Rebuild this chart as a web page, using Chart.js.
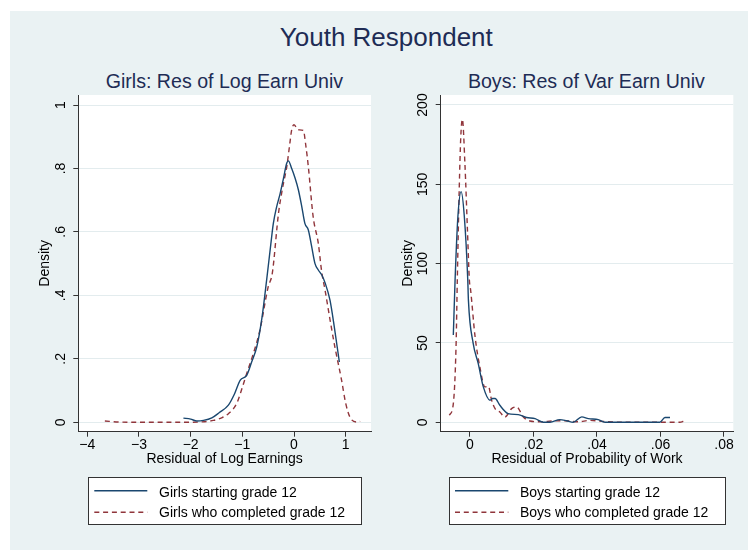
<!DOCTYPE html>
<html><head><meta charset="utf-8">
<script src="https://cdn.jsdelivr.net/npm/chart.js@4.4.1/dist/chart.umd.min.js"></script>
<style>
html,body{margin:0;padding:0;background:#fff;}
#wrap{position:relative;width:748px;height:550px;overflow:hidden;background:#fff;}
#bg{position:absolute;left:10px;top:11px;width:738px;height:539px;background:#EAF2F3;}
canvas{position:absolute;top:0;}
.t{position:absolute;white-space:nowrap;font-family:"Liberation Sans",Arial,sans-serif;line-height:1;}
.title{font-size:26px;color:#1e2c55;top:23.7px;left:386.3px;transform:translateX(-50%);}
.sub{font-size:19.6px;color:#1e2c55;top:71.7px;transform:translateX(-50%);}
.leg{position:absolute;top:477px;height:48px;background:#fff;border:1px solid #333;box-sizing:border-box;}
.lt{font-size:14px;color:#000;}
svg{position:absolute;left:0;top:0;}
</style>
</head><body>
<div id="wrap">
<div id="bg"></div>
<div class="t title">Youth Respondent</div>
<div class="t sub" style="left:224.4px">Girls: Res of Log Earn Univ</div>
<div class="t sub" style="left:586.4px">Boys: Res of Var Earn Univ</div>
<canvas id="c1" width="374" height="550" style="left:0px"></canvas>
<canvas id="c2" width="374" height="550" style="left:374px"></canvas>
<div class="leg" style="left:87.5px;width:274.5px"></div>
<div class="leg" style="left:449px;width:277px"></div>
<svg width="748" height="550">
<line x1="94.3" y1="490.7" x2="147.3" y2="490.7" stroke="#1a476f" stroke-width="1.4"/>
<line x1="94.3" y1="512.3" x2="147.3" y2="512.3" stroke="#90353b" stroke-width="1.4" stroke-dasharray="5,3.8"/>
<line x1="455" y1="490.7" x2="508.3" y2="490.7" stroke="#1a476f" stroke-width="1.4"/>
<line x1="455" y1="512.3" x2="508.3" y2="512.3" stroke="#90353b" stroke-width="1.4" stroke-dasharray="5,3.8"/>
</svg>
<div class="t lt" style="left:159px;top:484.8px">Girls starting grade 12</div>
<div class="t lt" style="left:159px;top:505.4px">Girls who completed grade 12</div>
<div class="t lt" style="left:520px;top:484.8px">Boys starting grade 12</div>
<div class="t lt" style="left:520px;top:505.4px">Boys who completed grade 12</div>
</div>
<script>
// ---- Data ----
const girlsStartX = [-2.14,-2.0,-1.88,-1.75,-1.59,-1.45,-1.27,-1.15,-1.04,-0.915,-0.82,-0.72,-0.62,-0.53,-0.45,-0.40,-0.335,-0.27,-0.21,-0.14,-0.11,-0.045,0.02,0.084,0.15,0.21,0.277,0.34,0.406,0.47,0.535,0.6,0.696,0.78,0.877];
const girlsStartY = [0.013,0.010,0.004,0.006,0.014,0.030,0.054,0.090,0.133,0.148,0.190,0.238,0.330,0.448,0.560,0.627,0.680,0.720,0.764,0.817,0.824,0.800,0.770,0.733,0.680,0.627,0.606,0.555,0.500,0.480,0.465,0.440,0.385,0.300,0.190];
const girlsCompX = [-3.66,-3.4,-3.0,-2.5,-2.0,-1.8,-1.56,-1.4,-1.27,-1.11,-1.0,-0.915,-0.8,-0.66,-0.5,-0.42,-0.30,-0.22,-0.14,-0.08,-0.045,0.0,0.08,0.18,0.23,0.277,0.37,0.47,0.535,0.6,0.7,0.79,0.92,1.0,1.08,1.21,1.28];
const girlsCompY = [0.004,0.001,0.0,0.0,0.0,0.001,0.006,0.014,0.027,0.059,0.110,0.154,0.210,0.290,0.427,0.470,0.659,0.740,0.806,0.880,0.922,0.938,0.922,0.920,0.870,0.806,0.648,0.564,0.475,0.417,0.320,0.238,0.133,0.060,0.017,0.001,0.003];
const boysStartX = [-0.00525,-0.0047,-0.0038,-0.0028,-0.0018,-0.0007,-0.0005,0.001,0.0026,0.0042,0.0063,0.0071,0.0079,0.0094,0.012,0.0152,0.0178,0.0205,0.0231,0.0252,0.0283,0.0304,0.0325,0.0352,0.0373,0.0404,0.0425,0.05,0.0598,0.0614,0.063];
const boysStartY = [55,89.6,130,145.4,130,89.6,77,49.7,37,22.3,13.9,15,15,10.7,5.5,4.8,3,2.3,0,0,1.7,1,0,3.4,2.3,1.7,0,0,0,3,3];
const boysCompX = [-0.0065,-0.00525,-0.0044,-0.004,-0.0034,-0.0029,-0.0024,-0.0016,-0.0008,-0.0002,0.0002,0.0016,0.0031,0.0047,0.0058,0.0068,0.0079,0.0094,0.011,0.0131,0.0147,0.0168,0.0189,0.022,0.026,0.03,0.034,0.0378,0.042,0.05,0.058,0.0661,0.0674];
const boysCompY = [4.4,11.8,47.5,89.6,146.5,180,191,163,121,89.6,83.3,53.9,34.9,22.3,22.7,14,8.6,6.5,3.3,8.6,9.7,3.3,0.8,0.3,0.8,1.0,0.3,1.2,0.5,0,0,0,0.8];

const girlsXTicks = [-4,-3,-2,-1,0,1];
const girlsXTickLabels = ['\u22124','\u22123','\u22122','\u22121','0','1'];
const girlsYTicks = [0,0.2,0.4,0.6,0.8,1];
const girlsYTickLabels = ['0','.2','.4','.6','.8','1'];
const boysXTicks = [0,0.02,0.04,0.06,0.08];
const boysXTickLabels = ['0','.02','.04','.06','.08'];
const boysYTicks = [0,50,100,150,200];
const boysYTickLabels = ['0','50','100','150','200'];

const NAVY = '#1a476f', MAROON = '#90353b';
Chart.defaults.font.family = '"Liberation Sans", Arial, sans-serif';
Chart.defaults.color = '#000';

const plotBg = { id:'plotBg', beforeDraw(chart){ const {ctx, chartArea:a} = chart; ctx.save(); ctx.fillStyle='#fff'; ctx.fillRect(a.left,a.top,a.right-a.left,a.bottom-a.top); ctx.restore(); } };

function pts(xs, ys){ return xs.map((x,i)=>({x:x,y:ys[i]})); }

function makeChart(id, o){
  return new Chart(document.getElementById(id), {
    type:'line',
    data:{ datasets:[
      {data:pts(o.sx,o.sy), borderColor:NAVY, borderWidth:1.4, pointRadius:0, fill:false, cubicInterpolationMode:'monotone'},
      {data:pts(o.cx,o.cy), borderColor:MAROON, borderWidth:1.4, borderDash:[5,3.8], pointRadius:0, fill:false, cubicInterpolationMode:'monotone'}
    ]},
    options:{
      responsive:false, animation:false, devicePixelRatio:1,
      layout:{ padding:o.pad },
      plugins:{ legend:{display:false}, tooltip:{enabled:false}, title:{display:false} },
      scales:{
        x:{ type:'linear', min:o.xmin, max:o.xmax,
            afterBuildTicks:s=>{ s.ticks = o.xt.map(v=>({value:v})); },
            afterFit:s=>{ s.height = 36; },
            ticks:{ autoSkip:false, maxRotation:0, padding:0, font:{size:14}, color:'#000', callback:(v,i)=>o.xl[i] },
            grid:{ display:true, drawOnChartArea:false, drawTicks:true, tickLength:5, tickColor:'#333', tickWidth:1 },
            border:{ display:true, color:'#333', width:1 },
            title:{ display:true, text:o.xtitle, font:{size:14}, color:'#000', padding:{top:0,bottom:0} }
        },
        y:{ type:'linear', min:o.ymin, max:o.ymax,
            afterBuildTicks:s=>{ s.ticks = o.yt.map(v=>({value:v})); },
            afterFit:s=>{ s.width = 41.3; },
            ticks:{ autoSkip:false, minRotation:90, maxRotation:90, crossAlign:'center', padding:o.ypad, font:{size:14}, color:'#000', callback:(v,i)=>o.yl[i] },
            grid:{ display:true, drawOnChartArea:true, color:'#e3ecee', lineWidth:1, drawTicks:true, tickLength:5, tickColor:'#333', tickWidth:1 },
            border:{ display:true, color:'#333', width:1 },
            title:{ display:true, text:'Density', font:{size:14}, color:'#000', padding:{top:0,bottom:0} }
        }
      }
    },
    plugins:[plotBg]
  });
}

makeChart('c1', { sx:girlsStartX, sy:girlsStartY, cx:girlsCompX, cy:girlsCompY,
  xmin:-4.174, xmax:1.4896, ymin:-0.0297, ymax:1.0316,
  xt:girlsXTicks, xl:girlsXTickLabels, yt:girlsYTicks, yl:girlsYTickLabels,
  xtitle:'Residual of Log Earnings', ypad:6.5,
  pad:{left:37, top:95, right:3, bottom:82.3} });

makeChart('c2', { sx:boysStartX, sy:boysStartY, cx:boysCompX, cy:boysCompY,
  xmin:-0.009228, xmax:0.08293, ymin:-5.93, ymax:206.3,
  xt:boysXTicks, xl:boysXTickLabels, yt:boysYTicks, yl:boysYTickLabels,
  xtitle:'Residual of Probability of Work', ypad:0.7,
  pad:{left:25.4, top:95, right:14.7, bottom:82.3} });
</script>
</body></html>
